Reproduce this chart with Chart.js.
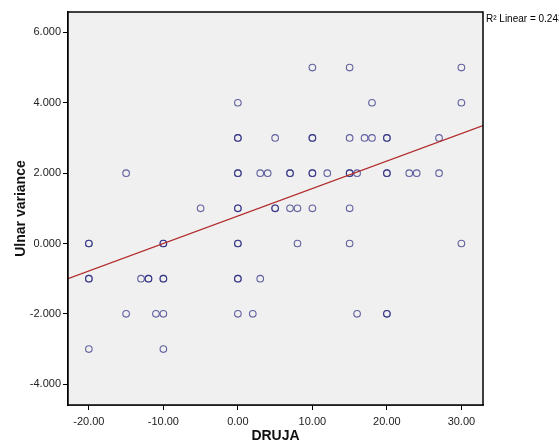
<!DOCTYPE html>
<html>
<head>
<meta charset="utf-8">
<script src="https://cdn.jsdelivr.net/npm/chart.js@4"></script>
<style>
  body { margin: 0; background: #fff; }
</style>
</head>
<body>
<canvas id="myChart" width="559" height="445"></canvas>
<script>
// observed points (DRUJA, Ulnar variance); repeated pairs are overplotted cases
var Druja = [10, 15, 30,
    0, 18, 30,
    0, 0, 5, 10, 10, 15, 17, 18, 20, 20, 27,
    -15, 0, 0, 3, 4, 7, 7, 10, 10, 12, 15, 15, 16, 20, 20, 23, 24, 27,
    -5, 0, 0, 5, 5, 7, 8, 10, 15,
    -20, -20, -10, -10, 0, 0, 8, 15, 30,
    -20, -20, -13, -12, -12, -10, -10, 0, 0, 3,
    -15, -11, -10, 0, 2, 16, 20, 20,
    -20, -10]
var Ulnar = [5, 5, 5,
    4, 4, 4,
    3, 3, 3, 3, 3, 3, 3, 3, 3, 3, 3,
    2, 2, 2, 2, 2, 2, 2, 2, 2, 2, 2, 2, 2, 2, 2, 2, 2, 2,
    1, 1, 1, 1, 1, 1, 1, 1, 1,
    0, 0, 0, 0, 0, 0, 0, 0, 0,
    -1, -1, -1, -1, -1, -1, -1, -1, -1, -1,
    -2, -2, -2, -2, -2, -2, -2, -2,
    -3, -3]

// fit line ends, read at the plot edges
var FitX = [-22.8, 32.9]
var FitY = [-1.0, 3.35]

var TicksX = [-20, -10, 0, 10, 20, 30]
var TicksY = [-4, -2, 0, 2, 4, 6]
var RangeX = [-22.8, 32.9]
var RangeY = [-4.59, 6.58]

var Puntos = []
for (var i = 0; i < Druja.length; i++) {
    Puntos.push({ x: Druja[i], y: Ulnar[i] })
}
var Linea = [{ x: FitX[0], y: FitY[0] }, { x: FitX[1], y: FitY[1] }]

var fondo = {
    id: 'fondo',
    beforeDatasetsDraw: function (chart) {
        var c = chart.ctx, a = chart.chartArea
        c.save()
        c.fillStyle = '#f0f0f0'
        c.fillRect(a.left, a.top, a.right - a.left, a.bottom - a.top)
        c.restore()
    },
    afterDraw: function (chart) {
        var c = chart.ctx, a = chart.chartArea
        c.save()
        c.strokeStyle = '#000'
        c.lineWidth = 1.5
        c.strokeRect(a.left, a.top, a.right - a.left, a.bottom - a.top)
        c.fillStyle = '#000'
        c.font = '10px "Liberation Sans", Arial, sans-serif'
        c.textBaseline = 'middle'
        c.fillText('R² Linear = 0.243', a.right + 3, 19)
        c.restore()
    }
}

var ctx = document.getElementById('myChart')
var myChart = new Chart(ctx, {
    type: 'scatter',
    data: {
        datasets: [{
            label: 'Linear',
            data: Linea,
            showLine: true,
            borderColor: '#b22a2a',
            borderWidth: 1.2,
            pointRadius: 0,
            fill: false
        },
        {
            label: 'Ulnar variance',
            data: Puntos,
            pointStyle: 'circle',
            pointRadius: 3.3,
            borderWidth: 1.1,
            borderColor: 'rgba(35,35,125,0.7)',
            backgroundColor: 'rgba(0,0,0,0)'
        }]
    },
    options: {
        responsive: false,
        animation: false,
        layout: { padding: { top: 12, right: 76, left: 0, bottom: 0 } },
        plugins: { legend: { display: false }, tooltip: { enabled: false } },
        scales: {
            x: {
                type: 'linear',
                min: RangeX[0],
                max: RangeX[1],
                afterBuildTicks: function (axis) { axis.ticks = TicksX.map(function (v) { return { value: v } }) },
                afterFit: function (axis) { axis.height = 40 },
                grid: { drawOnChartArea: false, drawTicks: true, tickLength: 5, color: '#000' },
                border: { display: true, color: '#000', width: 1.5 },
                ticks: {
                    color: '#222',
                    font: { family: '"Liberation Sans", Arial, sans-serif', size: 11 },
                    padding: 5,
                    maxRotation: 0,
                    callback: function (v) { return v.toFixed(2) }
                },
                title: {
                    display: true,
                    text: 'DRUJA',
                    color: '#111',
                    font: { family: '"Liberation Sans", Arial, sans-serif', size: 14, weight: 'bold' },
                    padding: { top: 2, bottom: 0 }
                }
            },
            y: {
                type: 'linear',
                min: RangeY[0],
                max: RangeY[1],
                afterBuildTicks: function (axis) { axis.ticks = TicksY.map(function (v) { return { value: v } }) },
                afterFit: function (axis) { axis.width = 68 },
                grid: { drawOnChartArea: false, drawTicks: true, tickLength: 5, color: '#000' },
                border: { display: true, color: '#000', width: 1.5 },
                ticks: {
                    color: '#222',
                    font: { family: '"Liberation Sans", Arial, sans-serif', size: 11 },
                    padding: 2,
                    callback: function (v) { return v.toFixed(3) }
                },
                title: {
                    display: true,
                    text: 'Ulnar variance',
                    color: '#111',
                    font: { family: '"Liberation Sans", Arial, sans-serif', size: 14, weight: 'bold' },
                    padding: { top: 13, bottom: 0 }
                }
            }
        }
    },
    plugins: [fondo]
})
</script>
</body>
</html>
